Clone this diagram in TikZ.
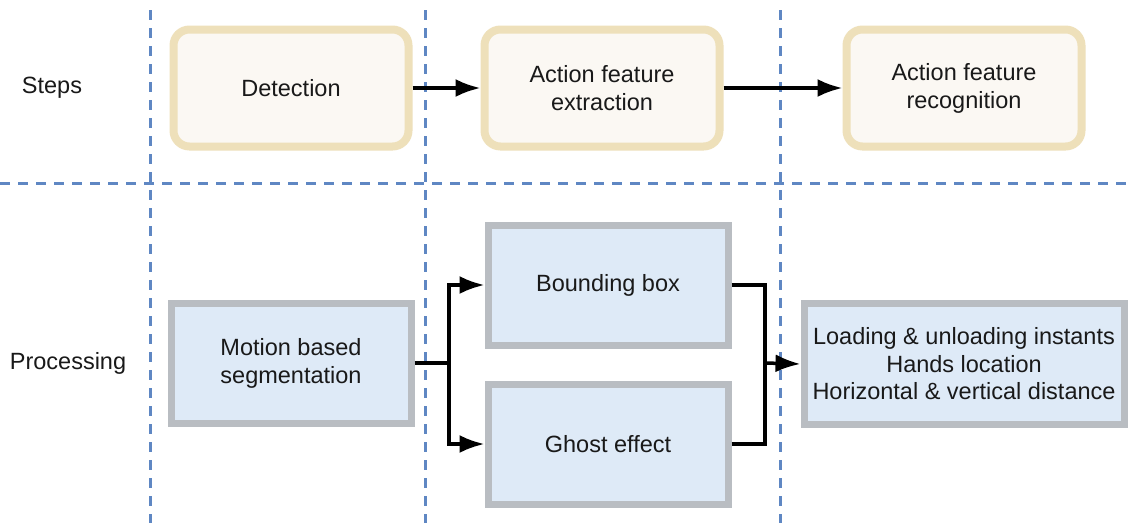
\documentclass[tikz,border=0pt]{standalone}
\usepackage{fontspec}
\setmainfont{Liberation Sans}
\usetikzlibrary{arrows.meta}
\definecolor{dashblue}{RGB}{95,135,195}
\definecolor{tanline}{RGB}{238,224,186}
\definecolor{tanfill}{RGB}{251,248,243}
\definecolor{grayline}{RGB}{185,189,194}
\definecolor{bluefill}{RGB}{222,234,247}
\tikzset{
  stepbox/.style={draw=tanline, fill=tanfill, line width=8pt, rounded corners=16pt,
    minimum width=235pt, minimum height=117pt, align=center, inner sep=0pt,
    font=\fontsize{23.5}{28}\selectfont, text=black!90},
  procbox/.style={draw=grayline, fill=bluefill, line width=7pt,
    minimum width=240pt, minimum height=120pt, align=center, inner sep=0pt,
    font=\fontsize{23.5}{28}\selectfont, text=black!90},
  lane/.style={dashblue, line width=3pt, dash pattern=on 10pt off 8pt},
  arr/.style={line width=3.5pt, -{Latex[length=25pt,width=18pt]}},
  conn/.style={line width=3.5pt},
  lbl/.style={font=\fontsize{23.5}{28}\selectfont, text=black!90}
}
\begin{document}
\begin{tikzpicture}[x=1pt,y=-1pt]
\path[use as bounding box, fill=white] (0,0) rectangle (1131,523);
% lanes
\draw[lane] (150,10) -- (150,523);
\draw[lane] (425,10) -- (425,523);
\draw[lane] (780,10) -- (780,523);
\draw[lane] (0,183) -- (1131,183);
% labels
\node[lbl] (steps) at (52,88) {Steps};
\node[lbl] (proc) at (68,363) {Processing};
% step boxes
\node[stepbox] (det) at (291,88) {Detection};
\node[stepbox] (afe) at (602,88) {Action feature\\extraction};
\node[stepbox] (afr) at (964,88) {Action feature\\recognition};
\draw[arr] (det) -- (afe);
\draw[arr] (afe) -- (afr);
% processing boxes
\node[procbox] (mbs) at (291,363) {Motion based\\segmentation};
\node[procbox] (bb) at (608,285) {Bounding box};
\node[procbox] (ge) at (608,444) {Ghost effect};
\node[procbox, minimum width=320pt, minimum height=121pt,
      font=\fontsize{23.5}{27.5}\selectfont] (ld) at (964,364)
  {Loading \& unloading instants\\Hands location\\Horizontal \& vertical distance};
\coordinate (split) at (449,363);
\coordinate (join) at (765,363);
\draw[conn] (mbs.east) -- (split);
\draw[arr] (split) |- (bb.west);
\draw[arr] (split) |- (ge.west);
\draw[conn] (bb.east) -| (join);
\draw[conn] (ge.east) -| (join);
\draw[arr] (join) -- (ld.west);
\end{tikzpicture}
\end{document}
